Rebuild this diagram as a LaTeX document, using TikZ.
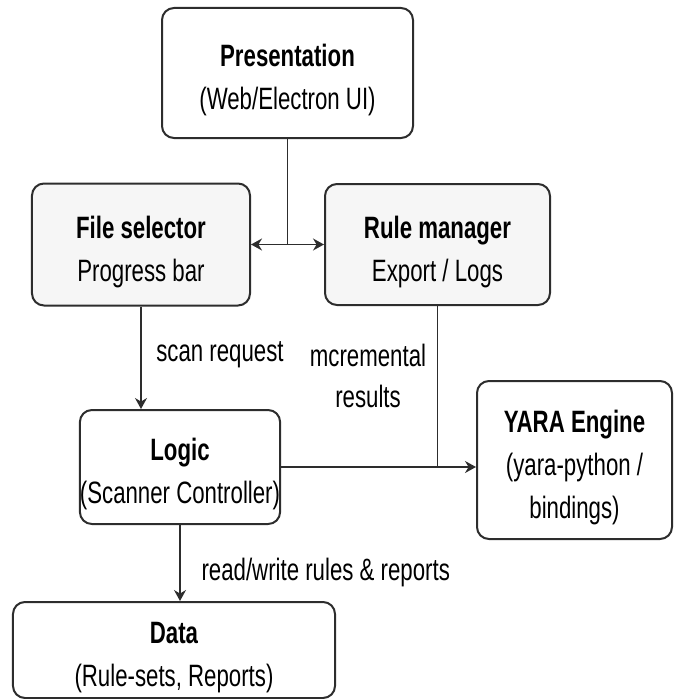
\documentclass[tikz,border=0pt]{standalone}
\usepackage{fontspec}
\setmainfont{Liberation Sans}[FakeStretch=0.72]
\usepackage{xcolor}
\usetikzlibrary{arrows.meta}
\definecolor{boxline}{RGB}{45, 45, 45}
\definecolor{boxgray}{RGB}{246, 246, 246}
\newcommand{\tallstrut}{\rule{0pt}{37bp}}

\begin{document}
\begin{tikzpicture}[x=1bp, y=-1bp,
    layer/.style={draw=boxline, line width=2bp, rounded corners=12bp, align=center,
                  inner sep=0pt, font=\fontsize{31}{43}\selectfont},
    link/.style={draw=boxline, line width=1.6bp},
    >={Stealth[length=11bp, width=12bp]}]
                \useasboundingbox (0,0) rectangle (677,699);

                % Presentation layer
                \node[layer, minimum width=251bp, minimum height=130bp] (pres) at (287.5, 73)
                    {\tallstrut\textbf{Presentation}\\(Web/Electron UI)};

                % UI components
                \node[layer, fill=boxgray, minimum width=218bp, minimum height=122bp] (filesel) at (141, 244.5)
                    {\tallstrut\textbf{File selector}\\Progress bar};
                \node[layer, fill=boxgray, minimum width=225bp, minimum height=121bp] (rulemgr) at (437.5, 244.5)
                    {\tallstrut\textbf{Rule manager}\\Export / Logs};

                % Logic and engine
                \node[layer, minimum width=194bp, minimum height=114bp] (logic) at (180, 467)
                    {\tallstrut\textbf{Logic}\\(Scanner Controller)};
                \node[layer, minimum width=195bp, minimum height=158bp] (yara) at (574.5, 460)
                    {\tallstrut\textbf{YARA Engine}\\(yara-python /\\bindings)};

                % Data layer
                \node[layer, minimum width=322bp, minimum height=96bp] (data) at (174, 650)
                    {\tallstrut\textbf{Data}\\(Rule-sets, Reports)};

                % Presentation to components
                \coordinate (split) at (pres.south |- filesel.east);
                \draw[link] (pres.south) -- (split);
                \draw[link, <->] (filesel.east) -- (rulemgr.west);

                % Scan request
                \draw[link, ->] (filesel.south) -- (filesel.south |- logic.north);
                \node[font=\fontsize{31}{43}\selectfont] (scanlbl) at (220, 355) {scan request};

                % Logic to engine, results back to rule manager
                \coordinate (join) at (rulemgr.south |- logic.east);
                \draw[link, ->] (logic.east) -- (logic.east -| yara.west);
                \draw[link] (rulemgr.south) -- (join);
                \node[font=\fontsize{31}{42}\selectfont, align=center] (reslbl) at (368, 376) {mcremental\\results};

                % Logic to data
                \draw[link, ->] (logic.south) -- (logic.south |- data.north);
                \node[font=\fontsize{31}{43}\selectfont, anchor=west] (rwlbl) at (198, 573) {read/write rules \& reports};
            \end{tikzpicture}
\end{document}
